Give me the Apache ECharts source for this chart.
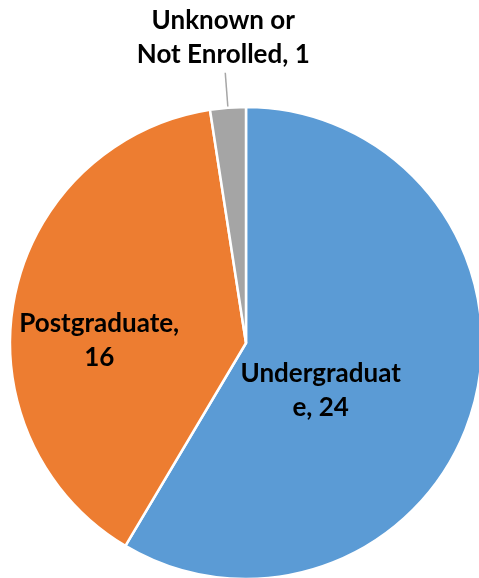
<!DOCTYPE html>
<html>
<head>
<meta charset="utf-8">
<script src="https://cdn.jsdelivr.net/npm/echarts@6/dist/echarts.min.js"></script>
<style>
html,body{margin:0;padding:0;background:#fff;}
#chart{width:479px;height:578px;}
</style>
</head>
<body>
<div id="chart"></div>
<script>
const categories = ['Undergraduate', 'Postgraduate', 'Unknown or Not Enrolled'];
const values = [24, 16, 1];
const labelTexts = ['Undergraduat\ne, 24', 'Postgraduate,\n16', 'Unknown or\nNot Enrolled, 1'];
const colors = ['#5B9BD5', '#ED7D31', '#A5A5A5'];

const chart = echarts.init(document.getElementById('chart'), null, {renderer: 'canvas'});

const insideOffsets = [[-42, 16], [-28, 21]];

const data = categories.map((c, i) => ({
  name: c,
  value: values[i],
  itemStyle: {color: colors[i]},
  label: {
    position: i < 2 ? 'inside' : 'outside',
    formatter: labelTexts[i]
  },
  labelLine: {show: i === 2}
}));

chart.setOption({
  animation: false,
  series: [{
    type: 'pie',
    center: [246, 343],
    radius: 236,
    startAngle: 90,
    clockwise: true,
    avoidLabelOverlap: false,
    itemStyle: {borderColor: '#ffffff', borderWidth: 2.5},
    label: {
      show: true,
      color: '#000000',
      fontFamily: 'Lato',
      fontWeight: 'bold',
      fontSize: 26,
      lineHeight: 34,
      align: 'center'
    },
    labelLine: {
      length: 35,
      length2: 0,
      lineStyle: {color: '#A6A6A6', width: 1.5}
    },
    emphasis: {disabled: true},
    labelLayout: function (p) {
      if (p.dataIndex < 2) {
        return {dx: insideOffsets[p.dataIndex][0], dy: insideOffsets[p.dataIndex][1]};
      }
      const pts = p.labelLinePoints;
      const end = pts[pts.length - 1];
      return {
        x: end[0] - 2,
        y: end[1] - 1,
        align: 'center',
        verticalAlign: 'bottom',
        labelLinePoints: pts
      };
    },
    data: data
  }]
});
</script>
</body>
</html>
